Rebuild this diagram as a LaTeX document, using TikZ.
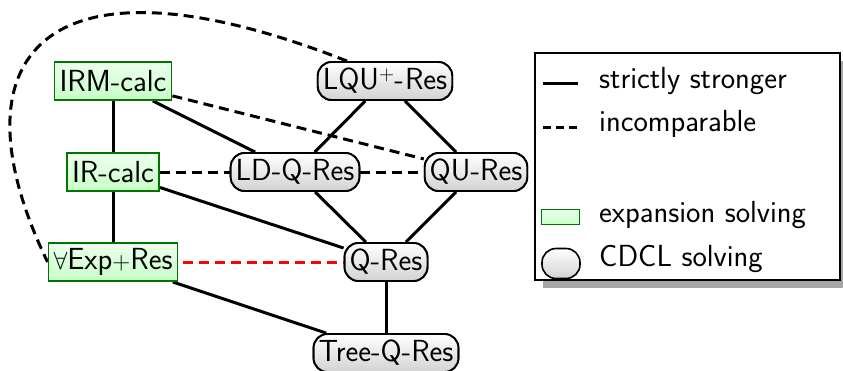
\documentclass[tikz,border=0pt]{standalone}
\begin{document}
\begin{tikzpicture}[x=1pt,y=-1pt,
 base/.style={font=\sffamily\fontsize{30.5}{34}\selectfont, minimum height=38pt, inner xsep=5pt, inner ysep=0pt, line width=1.9pt},
 expn/.style={base, draw=green!45!black, top color=green!7, bottom color=green!22},
 cdcl/.style={base, draw=black, rounded corners=14pt, top color=white, bottom color=gray!35},
 strong/.style={line width=3pt},
 incomp/.style={line width=3pt, dash pattern=on 10pt off 6pt},
 legtext/.style={font=\sffamily\fontsize{30.5}{34}\selectfont, anchor=west, inner sep=0pt}
]
\useasboundingbox (0,0) rectangle (843,370);

% nodes
\node[expn] (irm) at (113,81) {IRM-calc};
\node[cdcl] (lqu) at (385,81) {LQU$^+$-\kern1pt Res};
\node[expn] (ir) at (113,172) {IR-calc};
\node[cdcl] (ldq) at (295,172) {LD-Q-Res};
\node[cdcl] (qu) at (476,172) {QU-Res};
\node[expn] (aexp) at (113,262) {$\forall$Exp$+$Res};
\node[cdcl] (qres) at (386,262) {Q-Res};
\node[cdcl] (tree) at (386,353) {Tree-Q-Res};

% connectors
\draw[strong] (irm) -- (ir);
\draw[strong] (irm) -- (ldq);
\draw[incomp] (irm) -- (qu);
\draw[strong] (lqu) -- (ldq);
\draw[strong] (lqu) -- (qu);
\draw[incomp] (ir) -- (ldq);
\draw[incomp] (ldq) -- (qu);
\draw[strong] (ir) -- (aexp);
\draw[strong] (ir) -- (qres);
\draw[strong] (ldq) -- (qres);
\draw[strong] (qu) -- (qres);
\draw[incomp, red, shorten <=5pt] (aexp) -- (qres);
\draw[strong] (aexp) -- (tree);
\draw[strong] (qres) -- (tree);
\coordinate (cstart) at ([xshift=-38pt]lqu.north);
\draw[incomp] (cstart) .. controls (39,-60) and (-50,60) .. (aexp.west);

% redraw nodes on top
\node[expn] at (irm) {IRM-calc};
\node[cdcl] at (lqu) {LQU$^+$-\kern1pt Res};
\node[expn] at (ir) {IR-calc};
\node[cdcl] at (ldq) {LD-Q-Res};
\node[cdcl] at (qu) {QU-Res};
\node[expn] at (aexp) {$\forall$Exp$+$Res};
\node[cdcl] at (qres) {Q-Res};
\node[cdcl] at (tree) {Tree-Q-Res};

% legend
\fill[gray!70] (543,61) rectangle (843,288);
\node[draw, fill=white, line width=1.4pt, minimum width=305pt, minimum height=227pt, inner sep=0pt] (legend) at (687.5,166.5) {};
\coordinate (s1) at (543,83); \coordinate (s2) at (578,83);
\draw[strong] (s1) -- (s2);
\node[legtext] (t1) at (599,81) {strictly stronger};
\coordinate (d1) at (543,127); \coordinate (d2) at (578,127);
\draw[line width=3pt, dash pattern=on 8pt off 5pt] (d1) -- (d2);
\node[legtext] (t2) at (599,124) {incomparable};
\node[draw=green!45!black, top color=green!7, bottom color=green!22, line width=1.6pt, minimum width=38pt, minimum height=15pt, inner sep=0pt] (lg) at (560.5,217) {};
\node[legtext] (t3) at (599,215) {expansion solving};
\node[draw=black, top color=white, bottom color=gray!35, line width=1.6pt, rounded corners=14pt, minimum width=38pt, minimum height=30pt, inner sep=0pt] (lc) at (561,263.5) {};
\node[legtext] (t4) at (599,259) {CDCL solving};
\end{tikzpicture}
\end{document}
